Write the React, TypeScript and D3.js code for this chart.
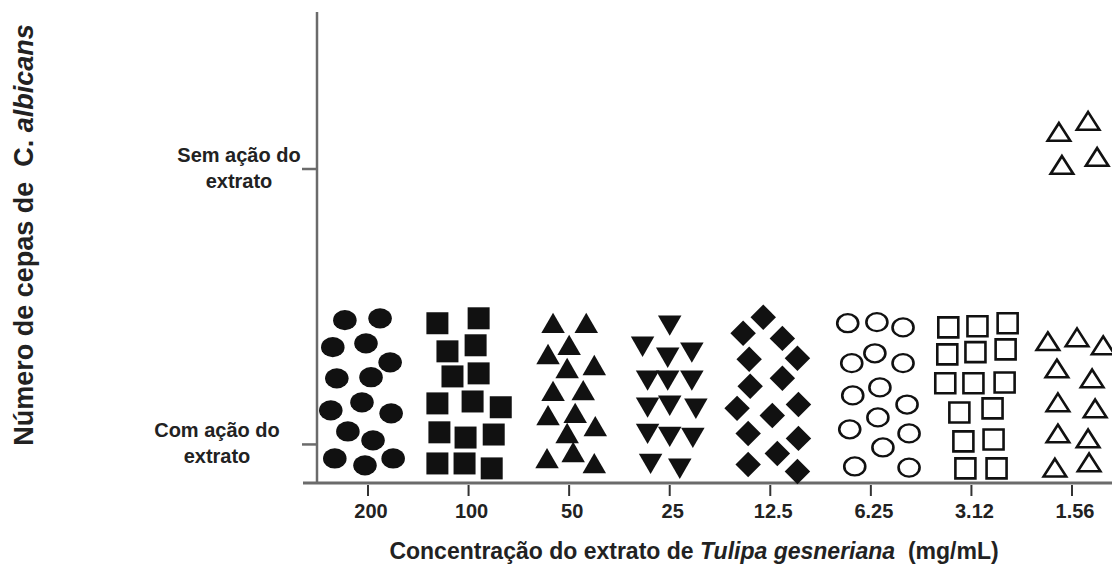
import React, { useMemo } from 'react';
import * as d3 from 'd3';

// concentrations of Tulipa gesneriana extract (mg/mL), one column each
const concentrations = ['200', '100', '50', '25', '12.5', '6.25', '3.12', '1.56'];

// y: 0 = "Com ação do extrato", 100 = "Sem ação do extrato"
// dx: horizontal spread inside a column, in % of the category step
type Pt = [number, number]; // [dx, y]

const conc200: Pt[] = [
  [-23, 45.1], [12, 45.8], [-35, 35.3], [-2, 36.7], [22, 29.8], [-31, 24.0], [3, 24.4],
  [-37, 12.4], [-6, 15.3], [23, 11.3], [-20, 4.7], [5, 1.5], [-33, -5.1], [-3, -7.6], [25, -5.1],
];
const conc100: Pt[] = [
  [-31, 44.0], [10, 45.8], [-21, 33.8], [7, 36.0], [-16, 24.7], [10, 25.8], [-31, 14.9],
  [4, 15.6], [32, 13.5], [-29, 4.4], [-3, 2.5], [25, 3.6], [-31, -6.9], [-4, -6.9], [23, -8.7],
];
const conc50: Pt[] = [
  [-16, 44.0], [17, 44.0], [0, 36.0], [-21, 32.7], [-2, 27.6], [25, 28.7], [-16, 19.3],
  [14, 19.6], [-21, 10.5], [6, 11.3], [26, 6.5], [-2, 4.0], [4, -2.9], [-22, -5.1], [25, -6.9],
];
const conc25: Pt[] = [
  [0, 43.3], [-27, 35.6], [-2, 31.6], [22, 33.5], [-22, 23.3], [-2, 23.3], [22, 23.3],
  [-22, 13.5], [0, 14.2], [26, 13.1], [-22, 4.0], [0, 2.9], [23, 2.5], [-19, -6.9], [10, -8.7],
];
const conc12_5: Pt[] = [
  [-7, 46.2], [-27, 40.4], [12, 38.5], [-21, 30.9], [27, 31.3], [-20, 21.1], [12, 24.0],
  [-33, 13.1], [2, 10.5], [28, 14.5], [-22, 4.0], [28, 2.2], [7, -3.3], [-22, -7.3], [27, -9.8],
];
const conc6_25: Pt[] = [
  [-23, 44.0], [6, 44.4], [32, 42.5], [-19, 29.5], [4, 33.1], [32, 29.5], [-18, 17.8],
  [9, 20.7], [36, 14.5], [7, 9.8], [-21, 5.5], [38, 4.0], [12, -1.1], [-16, -8.0], [38, -8.4],
];
const conc3_12: Pt[] = [
  [-23, 42.5], [6, 42.9], [36, 44.0], [-24, 32.7], [4, 33.5], [34, 34.5], [-26, 22.2],
  [2, 22.2], [33, 22.5], [-12, 11.6], [21, 13.1], [-8, 1.1], [22, 1.8], [-6, -8.7], [25, -8.7],
];
const conc1_56: Pt[] = [
  [-24, 37.5], [5, 38.9], [31, 36.0], [-15, 27.6], [20, 24.0], [-14, 15.3], [23, 13.1],
  [-14, 4.0], [16, 2.2], [-17, -8.4], [17, -6.5],
  [-13, 113.5], [16, 117.5], [-10, 101.5], [25, 104.4],
];

const seriesPoints = [conc200, conc100, conc50, conc25, conc12_5, conc6_25, conc3_12, conc1_56];
const seriesMarkers = ['circle', 'square', 'triangle', 'triangleDown', 'diamond', 'circleOpen', 'squareOpen', 'triangleOpen'];

const yTickValues = [100, 0];
const yTickLabels = [['Sem ação do', 'extrato'], ['Com ação do', 'extrato']];

const width = 1112;
const height = 565;
const axisX = 317;
const ink = '#111';
const axisGrey = '#6b6b6b';
const textCol = '#222';
const font = '"Liberation Sans", Arial, sans-serif';

const tri = (w: number) => (Math.sqrt(3) / 4) * w * w;

const Marker: React.FC<{ kind: string; cx: number; cy: number }> = ({ kind, cx, cy }) => {
  const sym = d3.symbol();
  switch (kind) {
    case 'circle':
      return <path d={sym.type(d3.symbolCircle).size(Math.PI * 121)() || ''} fill={ink}
        transform={`translate(${cx},${cy}) scale(1.07,0.92)`} />;
    case 'square':
      return <path d={sym.type(d3.symbolSquare).size(22 * 22)() || ''} fill={ink}
        transform={`translate(${cx},${cy})`} />;
    case 'triangle':
      return <path d={sym.type(d3.symbolTriangle).size(tri(23.5))() || ''} fill={ink}
        transform={`translate(${cx},${cy + 3})`} />;
    case 'triangleDown':
      return <path d={sym.type(d3.symbolTriangle).size(tri(23.5))() || ''} fill={ink}
        transform={`translate(${cx},${cy - 3}) rotate(180)`} />;
    case 'diamond':
      return <path d={sym.type(d3.symbolSquare).size(18 * 18)() || ''} fill={ink}
        transform={`translate(${cx},${cy}) rotate(45)`} />;
    case 'circleOpen':
      return <path d={sym.type(d3.symbolCircle).size(Math.PI * 100)() || ''} fill="#fff" stroke={ink}
        strokeWidth={2.5} transform={`translate(${cx},${cy}) scale(1.05,0.9)`} />;
    case 'squareOpen':
      return <path d={sym.type(d3.symbolSquare).size(20 * 20)() || ''} fill="#fff" stroke={ink}
        strokeWidth={2.6} transform={`translate(${cx},${cy})`} />;
    default:
      return <path d={sym.type(d3.symbolTriangle).size(tri(21.5))() || ''} fill="#fff" stroke={ink}
        strokeWidth={2.6} strokeLinejoin="miter" transform={`translate(${cx},${cy + 3}) scale(1.05,0.95)`} />;
  }
};

const App: React.FC = () => {
  const { x, y } = useMemo(() => {
    const x = d3.scalePoint<string>().domain(concentrations).range([368, 1072]);
    const y = d3.scaleLinear().domain([-14, 157]).range([483, 12]);
    return { x, y };
  }, []);
  const step = x.step();
  const yBottom = y(-14);

  // centre of each two-line y label, measured from the axis
  const yLabelCenter = [axisX - 78, axisX - 100];

  return (
    <svg width={width} height={height} viewBox={`0 0 ${width} ${height}`}
      style={{ position: 'absolute', left: 0, top: 0, background: '#fff' }} fontFamily={font}>
      {/* Axes */}
      <line x1={axisX} x2={axisX} y1={y(157)} y2={yBottom} stroke={axisGrey} strokeWidth={2.5} />
      <line x1={303} x2={width} y1={yBottom} y2={yBottom} stroke={axisGrey} strokeWidth={3} />

      {/* Y ticks */}
      {yTickValues.map((v, i) => (
        <g key={v}>
          <line x1={axisX - 15} x2={axisX} y1={y(v)} y2={y(v)} stroke={axisGrey} strokeWidth={2.5} />
          <text x={yLabelCenter[i]} y={y(v) - 7} textAnchor="middle" fontSize={20} fontWeight="bold" fill={textCol}>
            <tspan x={yLabelCenter[i]} dy={0}>{yTickLabels[i][0]}</tspan>
            <tspan x={yLabelCenter[i]} dy={26}>{yTickLabels[i][1]}</tspan>
          </text>
        </g>
      ))}

      {/* X ticks */}
      {concentrations.map(c => (
        <g key={c}>
          <line x1={x(c)} x2={x(c)} y1={yBottom + 2} y2={yBottom + 13} stroke="#333" strokeWidth={2} />
          <text x={(x(c) || 0) + 3} y={yBottom + 35} textAnchor="middle" fontSize={20} fontWeight="bold" fill={textCol}>
            {c}
          </text>
        </g>
      ))}

      {/* Points */}
      {seriesPoints.map((pts, si) => (
        <g key={si}>
          {pts.map((p, i) => (
            <Marker key={i} kind={seriesMarkers[si]}
              cx={(x(concentrations[si]) || 0) + (p[0] / 100) * step} cy={y(p[1])} />
          ))}
        </g>
      ))}

      {/* Axis titles */}
      <text x={694} y={559} textAnchor="middle" fontSize={23} fontWeight="bold" fill={textCol}>
        Concentração do extrato de <tspan fontStyle="italic">Tulipa gesneriana</tspan>{'\u00a0\u00a0'}(mg/mL)
      </text>
      <text transform={`translate(33,235) rotate(-90)`} textAnchor="middle" fontSize={27} fontWeight="bold" fill={textCol}>
        Número de cepas de{'\u00a0\u00a0'}C. <tspan fontStyle="italic">albicans</tspan>
      </text>
    </svg>
  );
};

export default App;
